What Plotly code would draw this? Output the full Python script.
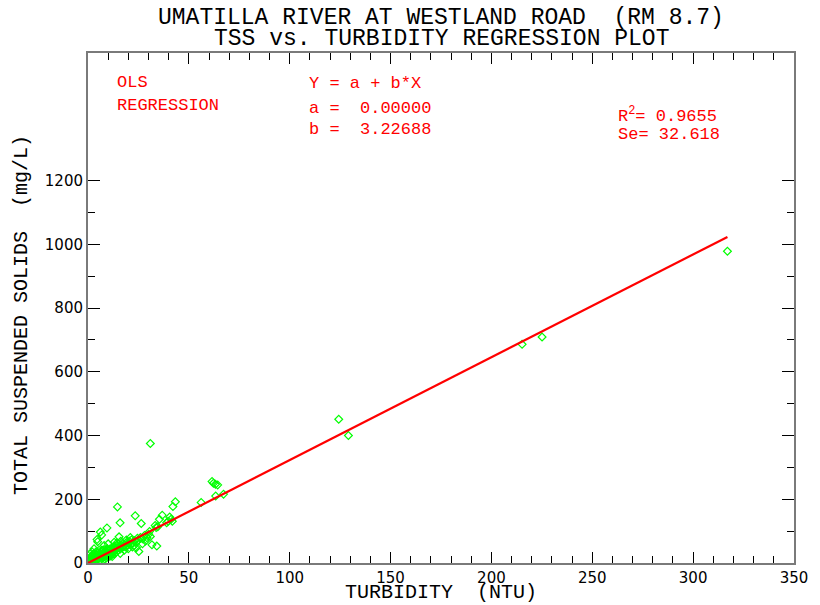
import plotly.graph_objects as go

# ---- data ----
turbidity = [
    0.8, 1.0, 1.2, 1.5, 1.8, 2.0, 2.2, 2.5, 2.8, 3.0, 3.0, 3.3, 3.5, 3.8, 4.0, 4.0, 4.3, 4.5, 4.8, 5.0,
    5.0, 5.3, 5.5, 5.8, 6.0, 6.0, 6.3, 6.5, 6.8, 7.0, 7.0, 7.3, 7.5, 7.8, 8.0, 8.0, 8.3, 8.5, 8.8, 9.0,
    9.0, 9.3, 9.5, 9.8, 10.0, 10.0, 10.5, 10.8, 11.0, 11.0, 11.5, 11.8, 12.0, 12.0, 12.5, 12.8, 13.0, 13.0,
    13.5, 14.0, 14.0, 14.5, 15.0, 15.0, 15.5, 16.0, 16.5, 17.0, 17.0, 17.5, 18.0, 18.5, 19.0, 19.5, 20.0,
    20.5, 21.0, 21.5, 22.0, 23.0, 24.0, 24.5, 25.0, 26.0, 27.0, 28.0,
    1.0, 2.0, 3.0, 8.0, 10.0, 12.0, 13.0, 16.0, 18.0, 19.0, 20.0, 21.0, 22.0, 24.0, 27.0,
    4.5, 4.8, 6.1, 6.8, 9.4, 14.6, 15.9, 14.3, 15.4, 16.2, 22.7, 25.2, 28.5, 29.2, 30.9, 31.7, 23.4,
    26.4, 30.5, 30.1, 34.1, 33.3, 34.6, 33.8, 36.8, 35.4, 40.5, 41.2, 41.8, 39.7, 39.0, 43.3, 42.1,
    56.1, 63.3, 67.2, 61.5, 62.2, 63.2, 64.3, 30.9,
    124.3, 129.1, 215.2, 225.1, 317.0,
]
tss = [
    4, 12, 8, 20, 6, 15, 25, 10, 18, 30, 8, 22, 14, 28, 10, 35, 18, 25, 12, 20,
    32, 15, 40, 22, 10, 28, 18, 35, 25, 14, 40, 22, 30, 18, 26, 42, 12, 32, 22, 36,
    16, 28, 45, 24, 32, 18, 38, 28, 22, 45, 34, 26, 40, 30, 48, 36, 28, 52,
    42, 34, 55, 46, 40, 60, 50, 44, 56, 48, 62, 52, 58, 50, 64, 55, 60,
    68, 58, 72, 62, 70, 66, 78, 72, 80, 76, 86,
    28, 35, 45, 55, 60, 20, 65, 30, 40, 72, 45, 80, 50, 48, 60,
    74, 67, 97, 88, 110, 176, 126, 63, 82, 68, 53, 36, 69, 79, 83, 57, 148,
    124, 99, 90, 53, 118, 114, 111, 150, 137, 144, 137, 131, 131, 126, 192, 177,
    190, 210, 216, 256, 250, 247, 245, 375,
    451, 400, 686, 709, 978,
]
coef_a = 0.0
coef_b = 3.22688

x_major = [0, 50, 100, 150, 200, 250, 300, 350]
x_minor = [v for v in range(0, 351, 10) if v % 50 != 0]
y_major = [0, 200, 400, 600, 800, 1000, 1200]
y_minor = [100, 300, 500, 700, 900, 1100]

NB = "\u00a0"
title1 = "UMATILLA RIVER AT WESTLAND ROAD" + NB + NB + "(RM 8.7)"
title2 = "TSS vs. TURBIDITY REGRESSION PLOT"

fit_x = [0, max(turbidity)]
fit_y = [coef_a + coef_b * v for v in fit_x]

fig = go.Figure()
fig.add_trace(go.Scatter(
    x=turbidity, y=tss, mode="markers",
    marker=dict(symbol="diamond-open", size=6, color="#00ff00", line=dict(width=1.2, color="#00ff00")),
    showlegend=False, hoverinfo="skip",
))
fig.add_trace(go.Scatter(
    x=fit_x, y=fit_y, mode="lines",
    line=dict(color="#ff0000", width=2.2),
    showlegend=False, hoverinfo="skip",
))

tickfont = dict(family="DejaVu Sans", size=15, color="#000000")
fig.update_xaxes(
    range=[0, 350], showgrid=False, zeroline=False,
    showline=True, linecolor="#7a7a7a", linewidth=2, mirror="ticks",
    ticks="inside", ticklen=11, tickwidth=1.3, tickcolor="#000000",
    tickmode="array", tickvals=x_major, ticktext=[str(v) for v in x_major],
    minor=dict(tickmode="array", tickvals=x_minor, ticks="inside", ticklen=7, tickwidth=1.2, tickcolor="#000000"),
    tickfont=tickfont,
)
fig.update_yaxes(
    range=[0, 1600], showgrid=False, zeroline=False,
    showline=True, linecolor="#7a7a7a", linewidth=2, mirror="ticks",
    ticks="inside", ticklen=12, tickwidth=1.3, tickcolor="#000000",
    tickmode="array", tickvals=y_major, ticktext=[str(v) for v in y_major],
    minor=dict(tickmode="array", tickvals=y_minor, ticks="inside", ticklen=7, tickwidth=1.2, tickcolor="#000000"),
    tickfont=tickfont,
)

mono = "Liberation Mono"
red = "#ff0000"
annotations = [
    dict(text=title1, x=0.5, y=1.0 + (53.3 - 18) / 510.2, xanchor="center", yanchor="middle",
         font=dict(family=mono, size=23, color="#000000")),
    dict(text=title2, x=0.5, y=1.0 + (53.3 - 39) / 510.2, xanchor="center", yanchor="middle",
         font=dict(family=mono, size=23, color="#000000")),
    dict(text="TURBIDITY" + NB + NB + "(NTU)", x=0.5, y=(563.5 - 593) / 510.2, xanchor="center", yanchor="middle",
         font=dict(family=mono, size=20, color="#000000")),
    dict(text="TOTAL SUSPENDED SOLIDS" + NB + NB + "(mg/L)", x=(20 - 87.5) / 716, y=(563.5 - 315) / 510.2,
         xanchor="center", yanchor="middle", textangle=-90,
         font=dict(family=mono, size=20, color="#000000")),
    dict(text="OLS", x=(115 - 87.5) / 716, y=(563.5 - 83) / 510.2, xanchor="left", yanchor="middle",
         font=dict(family=mono, size=17, color=red)),
    dict(text="REGRESSION", x=(115 - 87.5) / 716, y=(563.5 - 106) / 510.2, xanchor="left", yanchor="middle",
         font=dict(family=mono, size=17, color=red)),
    dict(text="Y = a + b*X", x=(310 - 87.5) / 716, y=(563.5 - 84) / 510.2, xanchor="left", yanchor="middle",
         font=dict(family=mono, size=17, color=red)),
    dict(text="a =" + NB + NB + f"{coef_a:.5f}", x=(310 - 87.5) / 716, y=(563.5 - 109) / 510.2,
         xanchor="left", yanchor="middle", font=dict(family=mono, size=17, color=red)),
    dict(text="b =" + NB + NB + f"{coef_b:.5f}", x=(310 - 87.5) / 716, y=(563.5 - 130) / 510.2,
         xanchor="left", yanchor="middle", font=dict(family=mono, size=17, color=red)),
    dict(text="R<sup>2</sup>= 0.9655", x=(623 - 87.5) / 716, y=(563.5 - 115) / 510.2,
         xanchor="left", yanchor="middle", font=dict(family=mono, size=17, color=red)),
    dict(text="Se= 32.618", x=(623 - 87.5) / 716, y=(563.5 - 135) / 510.2,
         xanchor="left", yanchor="middle", font=dict(family=mono, size=17, color=red)),
]
for a in annotations:
    a.update(xref="paper", yref="paper", showarrow=False)

fig.update_layout(
    width=820, height=605,
    margin=dict(l=87.5, r=16.5, t=53.3, b=41.5),
    paper_bgcolor="#ffffff", plot_bgcolor="#ffffff",
    annotations=annotations,
)

fig.write_html("out.html")
